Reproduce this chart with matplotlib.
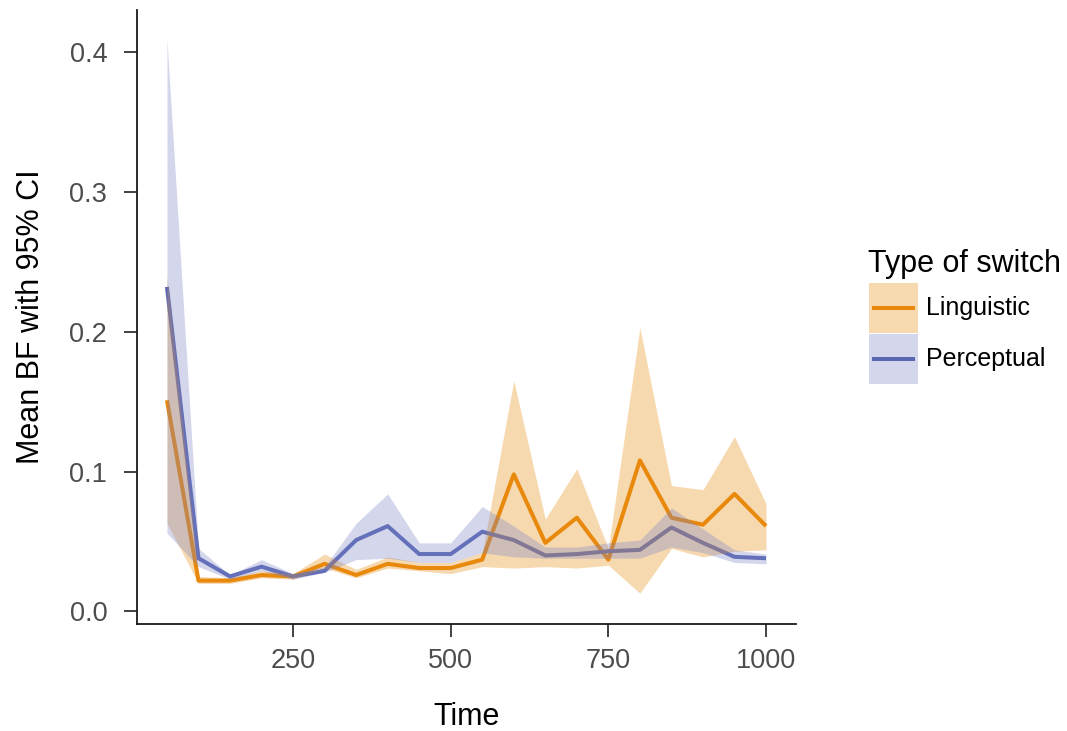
import matplotlib.pyplot as plt
from matplotlib.patches import Rectangle

plt.rcParams["font.family"] = ["Liberation Sans", "DejaVu Sans"]

time = [50, 100, 150, 200, 250, 300, 350, 400, 450, 500,
        550, 600, 650, 700, 750, 800, 850, 900, 950, 1000]

ling_mean = [0.151, 0.022, 0.022, 0.026, 0.025, 0.034, 0.026, 0.034, 0.031, 0.031,
             0.037, 0.098, 0.049, 0.067, 0.037, 0.108, 0.067, 0.062, 0.084, 0.061]
ling_lo = [0.063, 0.020, 0.020, 0.024, 0.023, 0.031, 0.024, 0.031, 0.029, 0.027,
           0.032, 0.031, 0.032, 0.031, 0.033, 0.013, 0.045, 0.039, 0.043, 0.044]
ling_hi = [0.240, 0.025, 0.024, 0.029, 0.027, 0.041, 0.030, 0.039, 0.035, 0.035,
           0.042, 0.165, 0.066, 0.102, 0.045, 0.203, 0.090, 0.087, 0.125, 0.077]

perc_mean = [0.232, 0.038, 0.025, 0.032, 0.025, 0.029, 0.051, 0.061, 0.041, 0.041,
             0.057, 0.051, 0.040, 0.041, 0.043, 0.044, 0.060, 0.049, 0.039, 0.038]
perc_lo = [0.056, 0.032, 0.023, 0.029, 0.023, 0.028, 0.037, 0.038, 0.035, 0.035,
           0.042, 0.039, 0.038, 0.038, 0.038, 0.038, 0.046, 0.042, 0.035, 0.034]
perc_hi = [0.409, 0.045, 0.026, 0.037, 0.027, 0.032, 0.063, 0.084, 0.049, 0.049,
           0.075, 0.061, 0.046, 0.046, 0.049, 0.051, 0.074, 0.059, 0.044, 0.041]

labels = ["Linguistic", "Perceptual"]
line_colors = ["#E8890C", "#5A68B4"]
fill_colors = ["#E8890C", "#7A83C4"]
fill_alpha = 0.32
lw = 2.9

fig = plt.figure(figsize=(10.67, 7.31), dpi=100)
ax = fig.add_axes([0.1284, 0.1464, 0.6176, 0.8399])

# lines first, ribbons on top (so the CI shading tints the lines)
ax.plot(time, ling_mean, color=line_colors[0], lw=lw, solid_capstyle="butt", zorder=2)
ax.plot(time, perc_mean, color=line_colors[1], lw=lw, solid_capstyle="butt", zorder=2)
ax.fill_between(time, ling_lo, ling_hi, color=fill_colors[0], alpha=fill_alpha, lw=0, zorder=3)
ax.fill_between(time, perc_lo, perc_hi, color=fill_colors[1], alpha=fill_alpha, lw=0, zorder=3)

ax.set_xlim(2.5, 1047.5)
ax.set_ylim(-0.009, 0.43)
ax.set_xticks([250, 500, 750, 1000])
ax.set_yticks([0.0, 0.1, 0.2, 0.3, 0.4])
ax.set_yticklabels(["0.0", "0.1", "0.2", "0.3", "0.4"])

for side in ["top", "right"]:
    ax.spines[side].set_visible(False)
for side in ["left", "bottom"]:
    ax.spines[side].set_linewidth(1.3)
    ax.spines[side].set_color("#1a1a1a")
ax.tick_params(axis="both", direction="out", length=9.5, width=1.3, color="#333333",
               labelsize=19.5, labelcolor="#4D4D4D")
ax.tick_params(axis="y", pad=12)
ax.tick_params(axis="x", pad=8)

ax.set_xlabel("Time", fontsize=22, labelpad=20)
ax.set_ylabel("Mean BF with 95% CI", fontsize=22, labelpad=17)

# legend drawn in pixel coordinates on an overlay axes
lax = fig.add_axes([0, 0, 1, 1])
lax.set_xlim(0, 1067)
lax.set_ylim(731, 0)
lax.axis("off")
lax.text(868, 272, "Type of switch", fontsize=22, ha="left", va="baseline")
key_tops = [283, 334]
for lab, lc, fc, top in zip(labels, line_colors, fill_colors, key_tops):
    lax.add_patch(Rectangle((869, top), 49, 50, facecolor=fc, alpha=fill_alpha, lw=0))
    lax.plot([872, 915], [top + 25, top + 25], color=lc, lw=lw, solid_capstyle="butt")
    lax.text(926, top + 25, lab, fontsize=18, ha="left", va="center")

fig.savefig("out.png", dpi=100)
